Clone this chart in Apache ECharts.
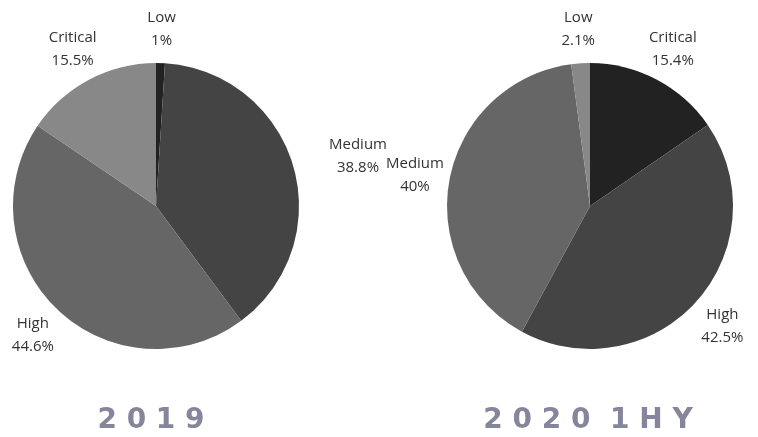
<!DOCTYPE html>
<html>
<head>
<meta charset="utf-8">
<script src="https://cdn.jsdelivr.net/npm/echarts@6/dist/echarts.min.js"></script>
<style>
  html, body { margin: 0; padding: 0; background: #ffffff; }
  #chart { width: 758px; height: 437px; }
</style>
</head>
<body>
<div id="chart"></div>
<script>
// Vulnerability severity split, 2019 vs first half of 2020
const names2019 = ['Low', 'Medium', 'High', 'Critical'];
const values2019 = [1, 38.8, 44.6, 15.5];
const names2020 = ['Critical', 'High', 'Medium', 'Low'];
const values2020 = [15.4, 42.5, 40, 2.1];
const periodTitles = ['2 0 1 9', '2 0 2 0  1 H Y'];

// slices are shaded darkest-first in data order
const sliceColors = ['#222222', '#444444', '#666666', '#888888'];
const PIE_RADIUS = 143;
const LABEL_RADIUS = 178;
const pieCenters = [[156, 206], [590, 206]];
const seriesValues = [values2019, values2020];
const seriesNames = [names2019, names2020];

// Angle (radians, clockwise from 12 o'clock) of the middle of slice i
function midAngle(values, i) {
  const total = values.reduce((a, b) => a + b, 0);
  let before = 0;
  for (let k = 0; k < i; k++) before += values[k];
  return (before + values[i] / 2) / total * Math.PI * 2;
}

// Labels sit centred on a ring just outside each pie
function labelLayout(params) {
  const s = params.seriesIndex;
  const i = params.dataIndex;
  const [cx, cy] = pieCenters[s];
  const a = midAngle(seriesValues[s], i);
  let x = cx + LABEL_RADIUS * Math.sin(a);
  let y = cy + 1 - LABEL_RADIUS * Math.cos(a);
  // the 2019 "Medium" label is lifted into the gap between the pies
  if (s === 0 && seriesNames[s][i] === 'Medium') {
    x = 358; y = 156;
  }
  return { x: x, y: y, align: 'center', verticalAlign: 'middle' };
}

function pieSeries(idx) {
  return {
    type: 'pie',
    center: pieCenters[idx],
    radius: PIE_RADIUS,
    startAngle: 90,
    clockwise: true,
    avoidLabelOverlap: false,
    animation: false,
    silent: true,
    data: seriesNames[idx].map((n, i) => ({
      name: n,
      value: seriesValues[idx][i],
      itemStyle: { color: sliceColors[i] }
    })),
    itemStyle: { borderWidth: 0 },
    label: {
      show: true,
      position: 'outside',
      formatter: '{b}\n{c}%',
      fontFamily: '"Open Sans"',
      fontSize: 15,
      lineHeight: 23,
      color: '#333333'
    },
    labelLine: { show: false },
    labelLayout: labelLayout,
    emphasis: { disabled: true }
  };
}

const chart = echarts.init(document.getElementById('chart'), null, { renderer: 'canvas' });
chart.setOption({
  backgroundColor: '#ffffff',
  series: [pieSeries(0), pieSeries(1)],
  graphic: [
    {
      type: 'text', x: 151, y: 421,
      style: {
        text: periodTitles[0], textAlign: 'center', textVerticalAlign: 'middle',
        font: 'bold 28px "DejaVu Sans"', fill: '#85859b'
      }
    },
    {
      type: 'text', x: 588, y: 421,
      style: {
        text: periodTitles[1], textAlign: 'center', textVerticalAlign: 'middle',
        font: 'bold 28px "DejaVu Sans"', fill: '#85859b'
      }
    }
  ]
});
</script>
</body>
</html>
